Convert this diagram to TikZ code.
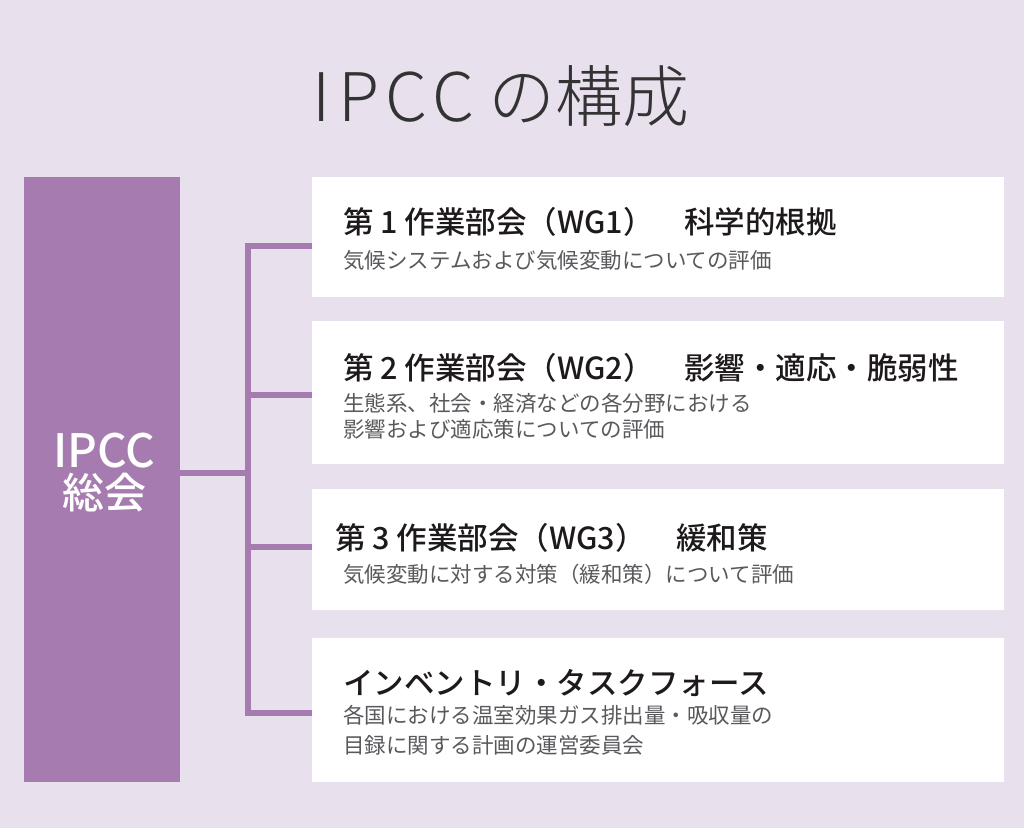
\documentclass[tikz,border=0pt]{standalone}
\usepackage{fontspec}
\setmainfont{Noto Sans CJK JP}
\newfontfamily\jpfont{Noto Sans CJK JP}
\newfontfamily\jpmed{Noto Sans CJK JP Medium}
\newfontfamily\jplight{Noto Sans CJK JP Light}
\definecolor{bgc}{HTML}{E8E1ED}
\definecolor{purp}{HTML}{A67BAF}
\definecolor{headc}{HTML}{1E1A1C}
\definecolor{subc}{HTML}{5A585C}
\definecolor{titlec}{HTML}{333333}
\tikzset{
  x=1pt, y=-1pt,
  panel/.style={fill=white, draw=none, inner sep=0pt, anchor=north west},
  genbox/.style={fill=purp, draw=none, inner sep=0pt, anchor=north west},
  conn/.style={draw=purp, line width=6pt},
  headtxt/.style={anchor=base west, inner sep=0pt, text=headc, font=\jpmed\fontsize{30.5}{36}\selectfont},
  subtxt/.style={anchor=base west, inner sep=0pt, text=subc, font=\jpfont\fontsize{21.5}{26}\selectfont},
  gentxt/.style={anchor=base, inner sep=0pt, text=white, font=\jpmed\fontsize{42}{46}\selectfont},
  titletxt/.style={anchor=base west, inner sep=0pt, text=titlec, font=\jplight\fontsize{67}{72}\selectfont}
}
\begin{document}
\begin{tikzpicture}
\fill[bgc] (0,0) rectangle (1024,828);
\useasboundingbox (0,0) rectangle (1024,828);
% title
\node[titletxt] (title) at (312,121) {I\hspace{8pt}P\hspace{6pt}C\hspace{5pt}C\hspace{14pt}の構成};
% general assembly
\node[genbox, minimum width=156pt, minimum height=605pt] (gen) at (24,177) {};
\node[gentxt, font=\jpmed\fontsize{46}{50}\selectfont] (genA) at (104,467) {IPCC};
\node[gentxt] (genB) at (104,508) {総会};
% panels
\node[panel, minimum width=692pt, minimum height=120pt] (b1) at (312,177) {};
\node[panel, minimum width=692pt, minimum height=143pt] (b2) at (312,321) {};
\node[panel, minimum width=692pt, minimum height=121pt] (b3) at (312,489) {};
\node[panel, minimum width=692pt, minimum height=144pt] (b4) at (312,638) {};
% texts
\node[headtxt] (h1) at (343,233) {第 1 作業部会（WG1）　科学的根拠};
\node[subtxt] (s1) at (343,268) {気候システムおよび気候変動についての評価};
\node[headtxt] (h2) at (343,379) {第 2 作業部会（WG2）　影響・適応・脆弱性};
\node[subtxt] (s2a) at (343,411) {生態系、社会・経済などの各分野における};
\node[subtxt] (s2b) at (343,437) {影響および適応策についての評価};
\node[headtxt] (h3) at (335,549) {第 3 作業部会（WG3）　緩和策};
\node[subtxt] (s3) at (343,582) {気候変動に対する対策（緩和策）について評価};
\node[headtxt] (h4) at (343,694) {インベントリ・タスクフォース};
\node[subtxt] (s4a) at (343,723) {各国における温室効果ガス排出量・吸収量の};
\node[subtxt] (s4b) at (343,753) {目録に関する計画の運営委員会};
% connectors
\coordinate (j) at (248,473);
\coordinate (t1) at (248,246);
\coordinate (t2) at (248,395);
\coordinate (t3) at (248,547);
\coordinate (t4) at (248,713);
\draw[conn] (gen.east |- j) -- (j);
\draw[conn] (t1 -| b1.west) -- (t1) -- (t4) -- (t4 -| b4.west);
\draw[conn] (t2) -- (t2 -| b2.west);
\draw[conn] (t3) -- (t3 -| b3.west);
\end{tikzpicture}
\end{document}
